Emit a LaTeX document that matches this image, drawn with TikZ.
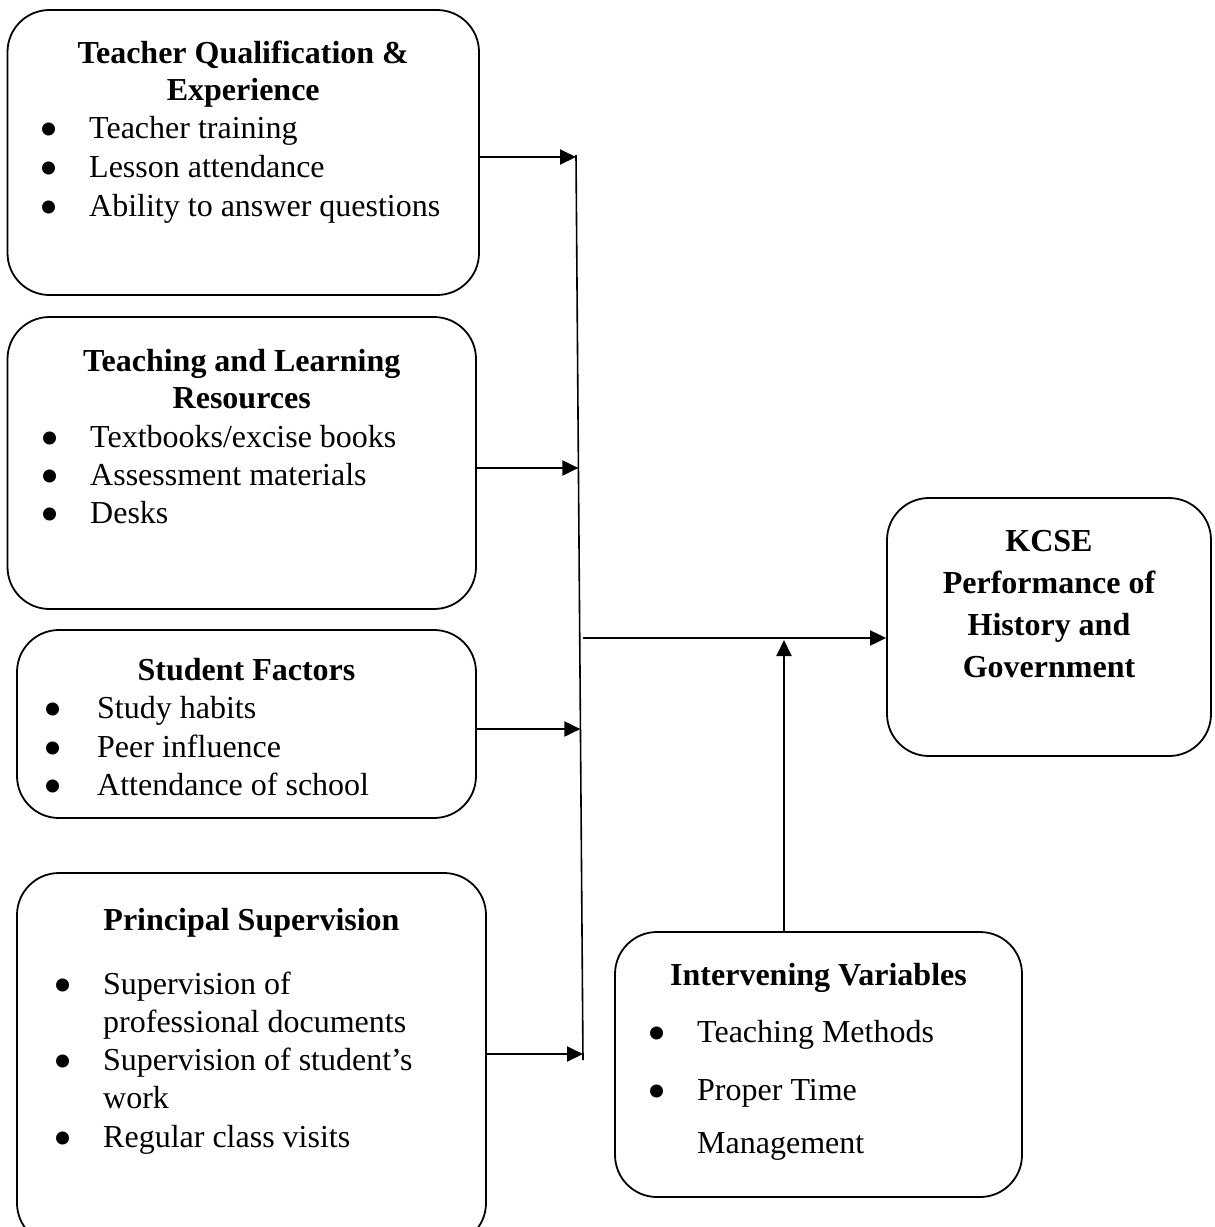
\documentclass[tikz,border=0pt]{standalone}
\usepackage{fontspec}
\setmainfont{Liberation Serif}
\usetikzlibrary{arrows.meta,positioning,calc}

% bullet hung to the left of the item text
\newcommand{\bitem}[2][50pt]{\llap{\makebox[#1][l]{\smash{\raisebox{-9pt}{\scalebox{1.7}{\textbullet}}}}}#2}

\tikzset{
  box/.style={draw, line width=1.8pt, rounded corners=42pt, inner sep=0pt},
  head/.style={font=\fontsize{32}{37}\selectfont\bfseries, align=center, anchor=base, inner sep=0pt},
  entry/.style={font=\fontsize{32}{37.5}\selectfont, align=left, anchor=base west, inner sep=0pt},
  link/.style={line width=2pt, -{Triangle[length=16pt,width=15pt]}},
}

\begin{document}
\begin{tikzpicture}[x=1pt, y=-1pt]
    \useasboundingbox (0,0) rectangle (1215,1227);

    % Teacher qualification
    \node[box, minimum width=471.5pt, minimum height=285pt] (tq) at (243.25,152.5) {};
    \node[head] (tqh) at (243.25,100) {Teacher Qualification \&\\Experience};
    \node[entry] (tq1) at (89,138) {\bitem{Teacher training}};
    \node[entry] (tq2) at (89,177) {\bitem{Lesson attendance}};
    \node[entry] (tq3) at (89,216) {\bitem{Ability to answer questions}};

    % Resources
    \node[box, minimum width=468.5pt, minimum height=292pt] (tl) at (241.75,463) {};
    \node[head] (tlh) at (241.75,408) {Teaching and Learning\\Resources};
    \node[entry] (tl1) at (90,447) {\bitem{Textbooks/excise books}};
    \node[entry] (tl2) at (90,485) {\bitem{Assessment materials}};
    \node[entry] (tl3) at (90,523) {\bitem{Desks}};

    % Student factors
    \node[box, minimum width=459pt, minimum height=188pt] (sf) at (246.5,724) {};
    \node[head] (sfh) at (246.5,680) {Student Factors};
    \node[entry] (sf1) at (97,718) {\bitem[53.5pt]{Study habits}};
    \node[entry] (sf2) at (97,757) {\bitem[53.5pt]{Peer influence}};
    \node[entry] (sf3) at (97,795) {\bitem[53.5pt]{Attendance of school}};

    % Principal supervision
    \node[box, minimum width=469pt, minimum height=372pt] (ps) at (251.5,1059) {};
    \node[head] (psh) at (251.5,930) {Principal Supervision};
    \node[entry] (ps1) at (103,1032) {\bitem{Supervision of}\\professional documents};
    \node[entry] (ps2) at (103,1108) {\bitem{Supervision of student's}\\work};
    \node[entry] (ps3) at (103,1147) {\bitem{Regular class visits}};

    % Outcome
    \node[box, minimum width=324pt, minimum height=258pt] (kc) at (1049,627) {};
    \node[head, font=\fontsize{32}{41.7}\selectfont\bfseries] (kch) at (1049,677)
      {KCSE\\Performance of\\History and\\Government};

    % Intervening variables
    \node[box, minimum width=407pt, minimum height=265pt] (iv) at (818.5,1064.5) {};
    \node[head] (ivh) at (818.5,985) {Intervening Variables};
    \node[entry] (iv1) at (697,1042) {\bitem{Teaching Methods}};
    \node[entry, font=\fontsize{32}{53}\selectfont] (iv2) at (697,1153) {\bitem{Proper Time}\\Management};

    % Collector line and arrows
    \coordinate (top) at (576,155);
    \coordinate (bot) at (583,1060);
    \draw[line width=1.6pt] (top) -- (bot);
    \coordinate (in1) at (576,157);
    \coordinate (in2) at (578.4,468);
    \coordinate (in3) at (580.4,729);
    \coordinate (in4) at (583,1054);
    \draw[link] (tq.east |- in1) -- (in1);
    \draw[link] (tl.east |- in2) -- (in2);
    \draw[link] (sf.east |- in3) -- (in3);
    \draw[link] (ps.east |- in4) -- (in4);

    \coordinate (hub) at (583,638);
    \coordinate (up) at (784,640);
    \draw[link] (hub) -- (kc.west |- hub);
    \draw[link] (iv.north -| up) -- (up);
\end{tikzpicture}
\end{document}
